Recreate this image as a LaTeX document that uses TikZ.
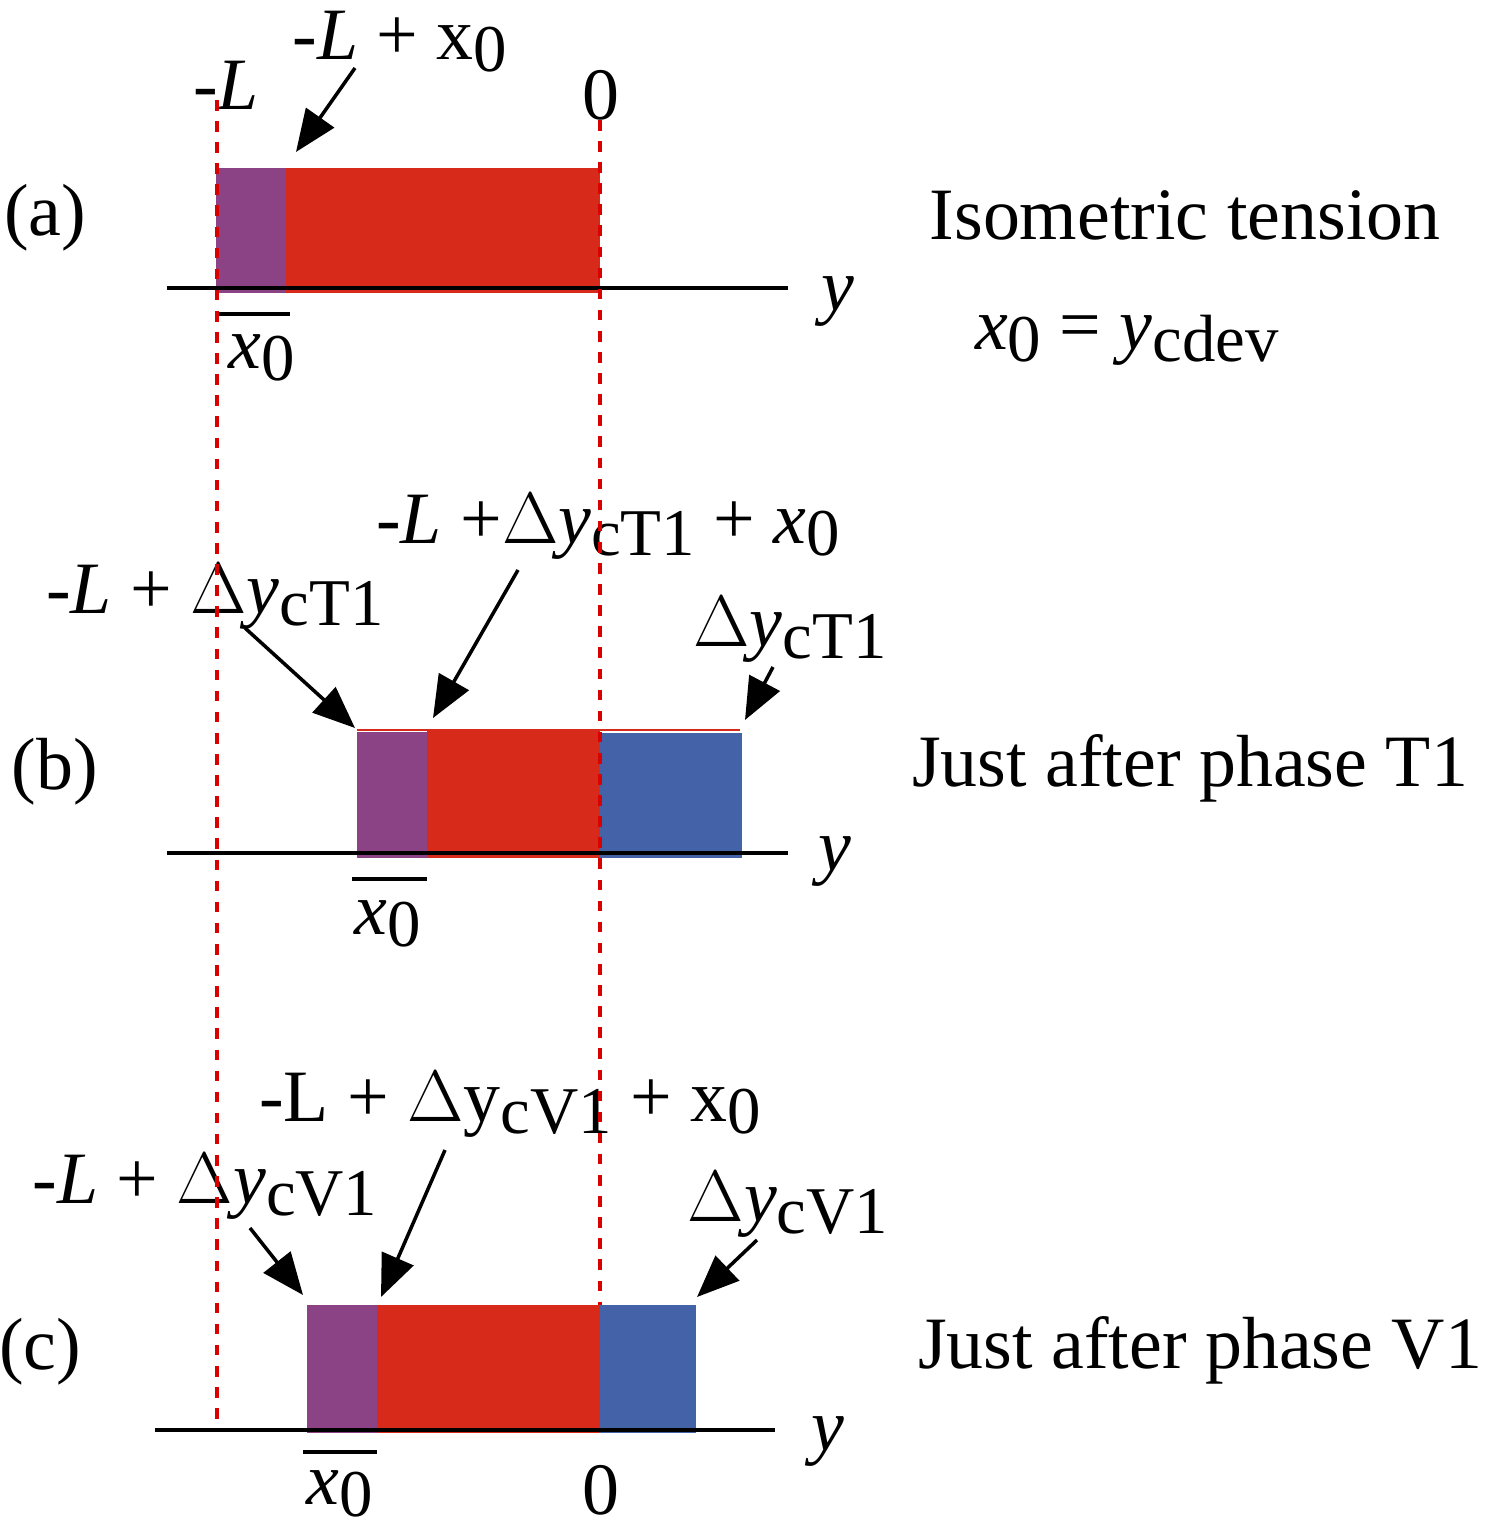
\documentclass[tikz,border=0pt]{standalone}
\usepackage{fontspec}
\setmainfont{Liberation Serif}
\usetikzlibrary{arrows.meta}
\newcommand{\lowsub}[1]{\raisebox{-0.35ex}{\fontsize{19}{22}\selectfont #1}}
\newcommand{\itx}{\textit{x}}
\newcommand{\ity}{\textit{y}}
\newcommand{\itL}{\textit{L}}
\begin{document}
\begin{tikzpicture}[
    x=0.01cm, y=-0.01cm,
    lbl/.style={inner sep=0pt, font=\fontsize{21}{25}\selectfont},
    big/.style={inner sep=0pt, font=\fontsize{21}{25}\selectfont},
    base/.style={line width=1pt},
    guide/.style={draw=red!85!black, dashed, line width=0.9pt},
    arrow/.style={-{Triangle[length=0.42cm, width=0.34cm]}, line width=1pt},
    bar/.style={line width=1pt}
]
\definecolor{cpurple}{HTML}{8B4385}
\definecolor{cred}{HTML}{D82A1A}
\definecolor{cblue}{HTML}{4462A8}
\useasboundingbox (0,0) rectangle (1486,1531);

% Panel (a)
\fill[cpurple] (216,168) rectangle (286,293);
\fill[cred] (286,168) rectangle (600,293);
\draw[base] (167,288) -- (788,288);
\node[big] (pa) at (45,218) {(a)};
\node[big] (ya) at (838,302) {\ity};
\node[lbl] (la) at (226,85) {-\itL};
\node[lbl] (lxa) at (400,42) {-\itL{} + x\lowsub{0}};
\node[lbl] (za) at (601,95) {0};
\coordinate (ta) at (296,152);
\draw[arrow] (355,68) -- (ta);
\draw[bar] (216,314) -- (290,314);
\node[lbl] (xa) at (262,358) {\itx\lowsub{0}};
\node[big] (iso) at (1185,215) {Isometric tension};
\node[big] (eq) at (1127,340) {\itx\lowsub{0} = \ity\lowsub{cdev}};

% Panel (b)
\fill[cpurple] (357,732) rectangle (427,858);
\fill[cred] (427,730) rectangle (600,858);
\fill[cblue] (600,733) rectangle (742,858);
\draw[cred, line width=0.8pt] (357,730) -- (740,730);
\draw[base] (167,853) -- (788,853);
\node[big] (pb) at (55,772) {(b)};
\node[big] (yb) at (835,862) {\ity};
\node[lbl] (lb1) at (215,597) {-\itL{} + $\Delta$\ity\lowsub{cT1}};
\node[lbl] (lb2) at (608,527) {-\itL{} +$\Delta$\ity\lowsub{cT1} + \itx\lowsub{0}};
\node[lbl] (lb3) at (790,630) {$\Delta$\ity\lowsub{cT1}};
\coordinate (tb1) at (355,728);
\coordinate (tb2) at (433,718);
\coordinate (tb3) at (745,720);
\draw[arrow] (245,628) -- (tb1);
\draw[arrow] (518,570) -- (tb2);
\draw[arrow] (773,667) -- (tb3);
\draw[bar] (352,879) -- (427,879);
\node[lbl] (xb) at (388,924) {\itx\lowsub{0}};
\node[big] (jt) at (1190,768) {Just after phase T1};

% Panel (c)
\fill[cpurple] (307,1305) rectangle (377,1433);
\fill[cred] (377,1305) rectangle (600,1433);
\fill[cblue] (600,1305) rectangle (696,1433);
\draw[base] (155,1430) -- (775,1430);
\node[big] (pc) at (40,1352) {(c)};
\node[big] (yc) at (828,1442) {\ity};
\node[lbl] (lc1) at (205,1187) {-\itL{} + $\Delta$\ity\lowsub{cV1}};
\node[lbl] (lc2) at (510,1105) {-L + $\Delta$y\lowsub{cV1} + x\lowsub{0}};
\node[lbl] (lc3) at (788,1205) {$\Delta$\ity\lowsub{cV1}};
\coordinate (tc1) at (303,1295);
\coordinate (tc2) at (381,1297);
\coordinate (tc3) at (697,1297);
\draw[arrow] (250,1228) -- (tc1);
\draw[arrow] (445,1150) -- (tc2);
\draw[arrow] (757,1240) -- (tc3);
\draw[bar] (303,1452) -- (377,1452);
\node[lbl] (xc) at (340,1494) {\itx\lowsub{0}};
\node[lbl] (zc) at (601,1490) {0};
\node[big] (jv) at (1200,1350) {Just after phase V1};

% Guide lines
\draw[guide] (217,100) -- (217,1420);
\draw[guide] (600,120) -- (600,1305);
\end{tikzpicture}
\end{document}
